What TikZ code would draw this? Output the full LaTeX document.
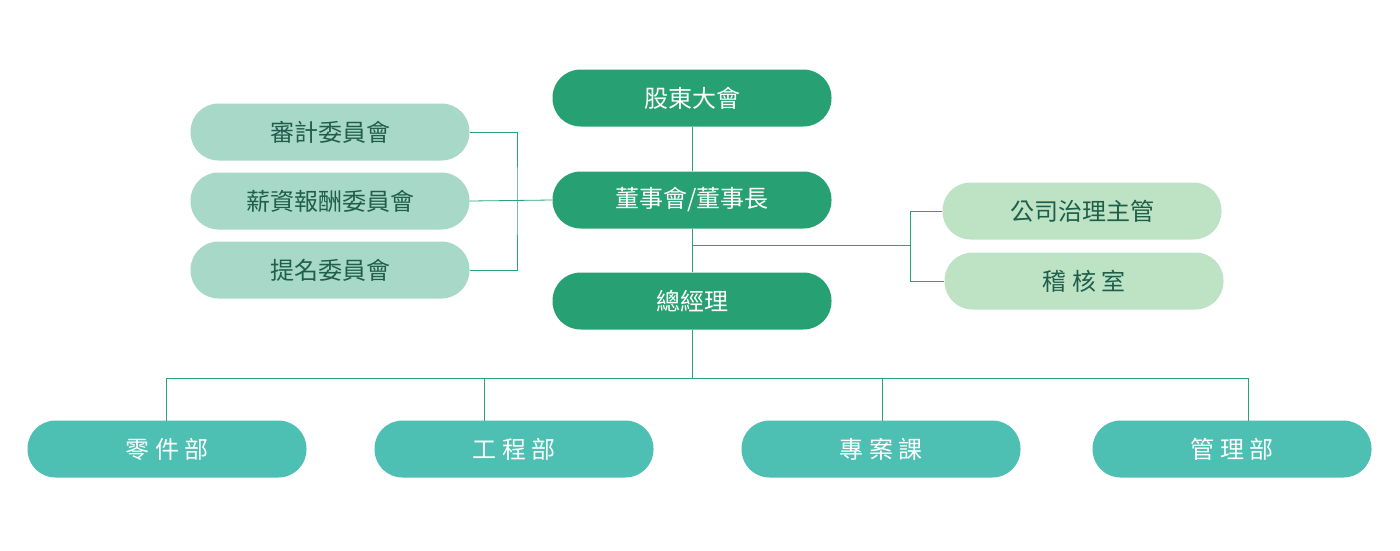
\documentclass[tikz,border=0pt]{standalone}
\usepackage{fontspec}
\setmainfont{Noto Sans CJK TC}
\usetikzlibrary{positioning}
\definecolor{darkgreen}{HTML}{27A174}
\definecolor{leftgreen}{HTML}{A8D8C8}
\definecolor{rightgreen}{HTML}{BDE3C4}
\definecolor{teal}{HTML}{4DBFB3}
\definecolor{textgreen}{HTML}{1F5E4A}
\definecolor{linegreen}{HTML}{2BA37A}
\begin{document}
\begin{tikzpicture}[x=1pt,y=-1pt,
   box/.style = {rounded corners=28pt, minimum width=279pt, minimum height=57pt,
                 inner sep=0pt, font=\fontsize{24}{28}\selectfont},
   top/.style = {box, fill=darkgreen, text=white},
   side/.style = {box, fill=leftgreen, text=textgreen},
   audit/.style = {box, fill=rightgreen, text=textgreen},
   dept/.style = {box, fill=teal, text=white},
   link/.style = {draw=linegreen, line width=0.8pt}]
\useasboundingbox (0,0) rectangle (1400,550);
% main line
   \node[top] (gm) at (692,98) {股東大會};
   \node[top] (bd) at (692,200) {董事會/董事長};
   \node[top] (ceo) at (692,301) {總經理};
% committees
   \node[side] (aud) at (330,132) {審計委員會};
   \node[side] (pay) at (330,201) {薪資報酬委員會};
   \node[side] (nom) at (330,270) {提名委員會};
% staff units
   \node[audit] (gov) at (1082,211) {公司治理主管};
   \node[audit] (chk) at (1084,281) {稽\ 核\ 室};
% departments
   \node[dept] (parts) at (167,449) {零\ 件\ 部};
   \node[dept] (eng) at (514,449) {工\ 程\ 部};
   \node[dept] (proj) at (881,449) {專\ 案\ 課};
   \node[dept] (mgmt) at (1232,449) {管\ 理\ 部};

   \coordinate (lb) at (517,201);
   \coordinate (rb) at (692,245);
   \coordinate (rv) at (910,245);
   \coordinate (db) at (692,378);

   \draw[link] (gm) -- (bd);
   \draw[link] (bd) -- (ceo);
   \draw[link] (aud.east) -| (lb) |- (nom.east);
   \draw[link] (pay.east) -- (bd.west);
   \draw[link] (rb) -- (rv);
   \draw[link] (gov.west) -| (rv) |- (chk.west);
   \draw[link] (ceo) -- (db);
   \draw[link] (166,378) -- (1248,378);
   \foreach \x/\d in {166/parts,484/eng,882/proj,1248/mgmt}
      \draw[link] (\x,378) -- (\x,421);
\end{tikzpicture}
\end{document}
